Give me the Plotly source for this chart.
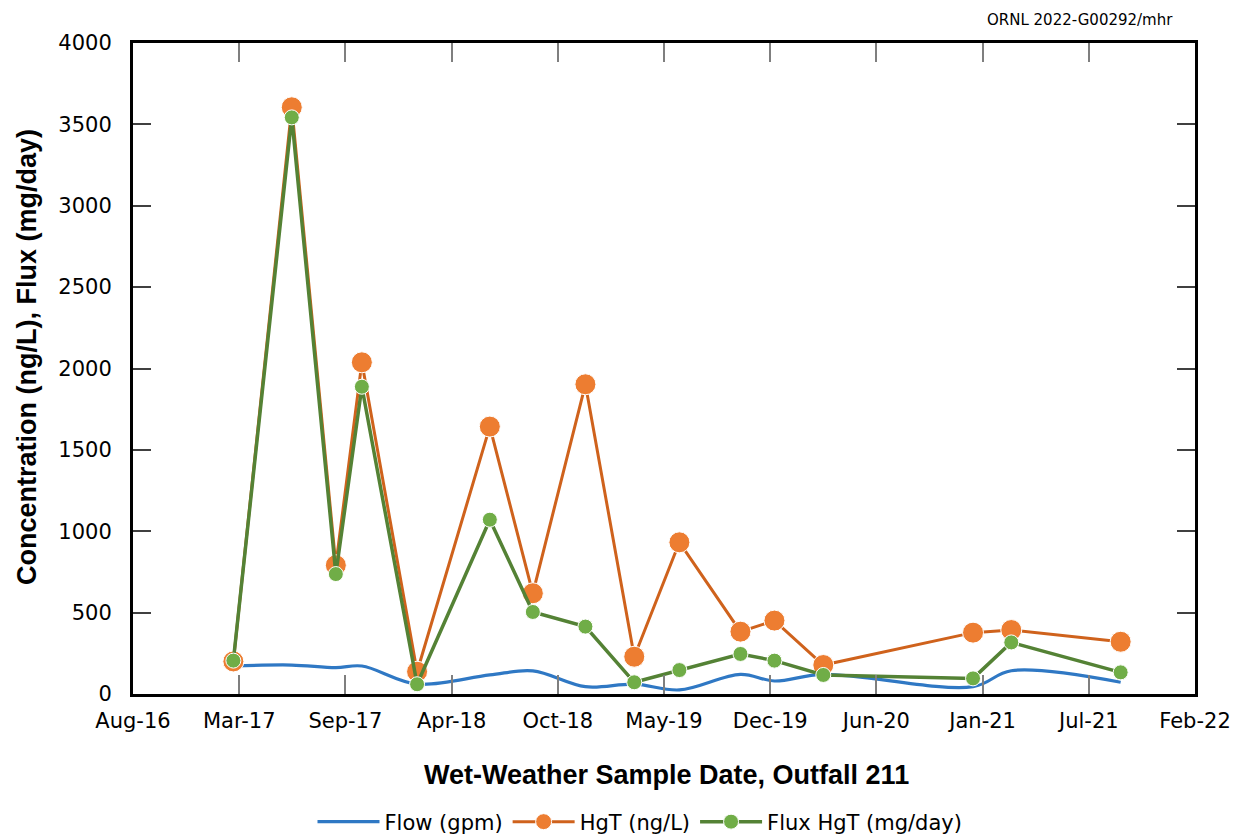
import plotly.graph_objects as go
import pandas as pd

# ---- data ----
dates = ["2017-02-25", "2017-06-15", "2017-09-06", "2017-10-25", "2018-02-06",
         "2018-06-23", "2018-09-12", "2018-12-20", "2019-03-22", "2019-06-15",
         "2019-10-08", "2019-12-11", "2020-03-12", "2020-12-19", "2021-03-01",
         "2021-09-23"]
flow_gpm = [172, 178, 162, 172, 61, 117, 142, 45, 61, 25, 121, 80, 121, 45, 143, 72]
hgt_ngL = [200, 3605, 791, 2038, 137, 1643, 619, 1903, 229, 932, 383, 451, 178, 377, 393, 321]
flux_mgday = [205, 3543, 737, 1888, 60, 1071, 504, 414, 72, 147, 246, 205, 117, 96, 317, 133]

tick_labels = ["Aug-16", "Mar-17", "Sep-17", "Apr-18", "Oct-18", "May-19",
               "Dec-19", "Jun-20", "Jan-21", "Jul-21", "Feb-22"]
x_start = "2016-08-20"
x_end = "2022-02-10"
y_ticks = [0, 500, 1000, 1500, 2000, 2500, 3000, 3500, 4000]

tick_vals = pd.date_range(x_start, periods=len(tick_labels), freq="200D")

FONT = "DejaVu Sans"
NARROW = "Liberation Sans Narrow, Arial Narrow, sans-serif"
W, H = 1236, 836

fig = go.Figure()
fig.add_trace(go.Scatter(
    x=dates, y=flow_gpm, name="Flow (gpm)", mode="lines",
    line=dict(color="#2F78C4", width=3.2, shape="spline", smoothing=1.0),
))
fig.add_trace(go.Scatter(
    x=dates, y=hgt_ngL, name="HgT (ng/L)", mode="lines+markers",
    line=dict(color="#CF621C", width=3),
    marker=dict(color="#ED7D31", size=21, line=dict(color="white", width=1)),
))
fig.add_trace(go.Scatter(
    x=dates, y=flux_mgday, name="Flux HgT (mg/day)", mode="lines+markers",
    line=dict(color="#548235", width=3.5),
    marker=dict(color="#70AD47", size=15, line=dict(color="white", width=1)),
))

fig.update_layout(
    width=W, height=H,
    margin=dict(l=133, r=41, t=43, b=142, autoexpand=False),
    paper_bgcolor="white", plot_bgcolor="white",
    font=dict(family=FONT, color="black"),
    showlegend=True,
    legend=dict(orientation="h", xref="container", yref="container",
                x=640 / W, xanchor="center", y=1 - 822 / H, yanchor="middle",
                font=dict(family=FONT, size=21, color="black"), itemwidth=62,
                traceorder="normal"),
    xaxis=dict(
        type="date", range=[x_start, x_end],
        tickmode="array", tickvals=tick_vals, ticktext=tick_labels,
        ticks="inside", ticklen=19, tickwidth=1.5, tickcolor="#7F7F7F",
        showline=True, linecolor="black", linewidth=3, mirror="allticks",
        showgrid=False, zeroline=False,
        tickfont=dict(family=FONT, size=21, color="black"),
        ticklabelstandoff=6,
    ),
    yaxis=dict(
        range=[0, 4000], tickmode="array", tickvals=y_ticks,
        ticks="inside", ticklen=18, tickwidth=1.5, tickcolor="#404040",
        showline=True, linecolor="black", linewidth=3, mirror="allticks",
        showgrid=False, zeroline=False,
        tickfont=dict(family=FONT, size=21, color="black"),
        ticklabelstandoff=14,
    ),
    annotations=[
        dict(text="<b>Wet-Weather Sample Date, Outfall 211</b>", xref="paper", yref="paper",
             x=0.502, y=(694 - 775) / 651, xanchor="center", yanchor="middle",
             showarrow=False, font=dict(family=NARROW, size=27, color="black")),
        dict(text="<b>Concentration (ng/L), Flux (mg/day)</b>", xref="paper", yref="paper",
             x=(27 - 133) / 1062, y=(694 - 357) / 651, xanchor="center", yanchor="middle",
             textangle=-90, showarrow=False, font=dict(family=NARROW, size=27, color="black")),
        dict(text="ORNL 2022-G00292/mhr", xref="paper", yref="paper",
             x=(1080 - 133) / 1062, y=(694 - 20) / 651, xanchor="center", yanchor="middle",
             showarrow=False, font=dict(family=FONT, size=15, color="black")),
    ],
)

fig.write_html("out.html")
